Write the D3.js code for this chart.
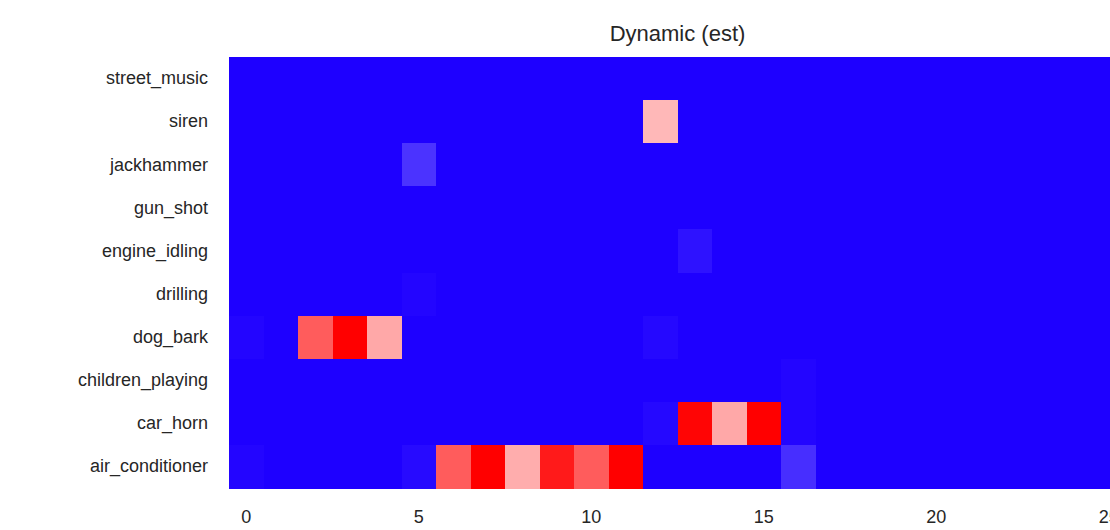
<!DOCTYPE html>
<html>
<head>
<meta charset="utf-8">
<script src="https://cdn.jsdelivr.net/npm/d3@7"></script>
<style>
  body { margin: 0; background: #fff; }
  text { font-family: "Liberation Sans", Arial, sans-serif; fill: #262626; }
</style>
</head>
<body>
<div id="chart"></div>
<script>
const classes = ["street_music", "siren", "jackhammer", "gun_shot", "engine_idling",
                 "drilling", "dog_bark", "children_playing", "car_horn", "air_conditioner"];
const nFrames = 26;
const xTicks = [0, 5, 10, 15, 20, 25];

// non-zero cells: [class, frame, value]
const cells = [
  ["siren", 12, 0.64],
  ["jackhammer", 5, 0.1],
  ["engine_idling", 13, 0.035],
  ["drilling", 5, 0.01],
  ["dog_bark", 0, 0.01],
  ["dog_bark", 2, 0.82],
  ["dog_bark", 3, 1.0],
  ["dog_bark", 4, 0.67],
  ["dog_bark", 12, 0.015],
  ["children_playing", 16, 0.01],
  ["car_horn", 12, 0.015],
  ["car_horn", 13, 0.99],
  ["car_horn", 14, 0.67],
  ["car_horn", 15, 1.0],
  ["car_horn", 16, 0.01],
  ["air_conditioner", 0, 0.01],
  ["air_conditioner", 5, 0.02],
  ["air_conditioner", 6, 0.82],
  ["air_conditioner", 7, 1.0],
  ["air_conditioner", 8, 0.66],
  ["air_conditioner", 9, 0.95],
  ["air_conditioner", 10, 0.82],
  ["air_conditioner", 11, 1.0],
  ["air_conditioner", 16, 0.09]
];

const margin = {top: 57, right: -16, bottom: 42, left: 229},
      width = 1110 - margin.left - margin.right,
      height = 530 - margin.top - margin.bottom;

const svg = d3.select("#chart")
              .append("svg")
              .attr("width", 1110)
              .attr("height", 530);

const g = svg.append("g")
             .attr("transform", `translate(${margin.left},${margin.top})`);

const frames = d3.range(nFrames);
const lookup = new Map(cells.map(d => [`${d[0]}|${d[1]}`, d[2]]));
const grid = [];
classes.forEach(c => frames.forEach(f => {
  grid.push({cls: c, frame: f, value: lookup.get(`${c}|${f}`) || 0});
}));

const x = d3.scaleBand().domain(frames).range([0, width]);
const y = d3.scaleBand().domain(classes).range([0, height]);

const color = d3.scaleLinear()
                .domain([0, 0.5, 1])
                .range(["#1e00ff", "#ffffff", "#ff0000"]);

g.selectAll(".cell")
 .data(grid)
 .enter()
 .append("rect")
 .attr("class", "cell")
 .attr("x", d => x(d.frame))
 .attr("y", d => y(d.cls))
 .attr("width", x.bandwidth() + 1)
 .attr("height", y.bandwidth() + 1)
 .attr("shape-rendering", "crispEdges")
 .attr("fill", d => color(d.value));

const xAxis = g.append("g")
  .attr("transform", `translate(0,${height})`)
  .call(d3.axisBottom(x).tickValues(xTicks).tickSize(0).tickPadding(22));
xAxis.select(".domain").remove();
xAxis.selectAll("text").style("font-size", "18px");

const yAxis = g.append("g")
  .call(d3.axisLeft(y).tickSize(0).tickPadding(21));
yAxis.select(".domain").remove();
yAxis.selectAll("text").style("font-size", "18px");

svg.append("text")
   .attr("x", margin.left + width / 2)
   .attr("y", 41)
   .attr("text-anchor", "middle")
   .style("font-size", "22px")
   .text("Dynamic (est)");
</script>
</body>
</html>
